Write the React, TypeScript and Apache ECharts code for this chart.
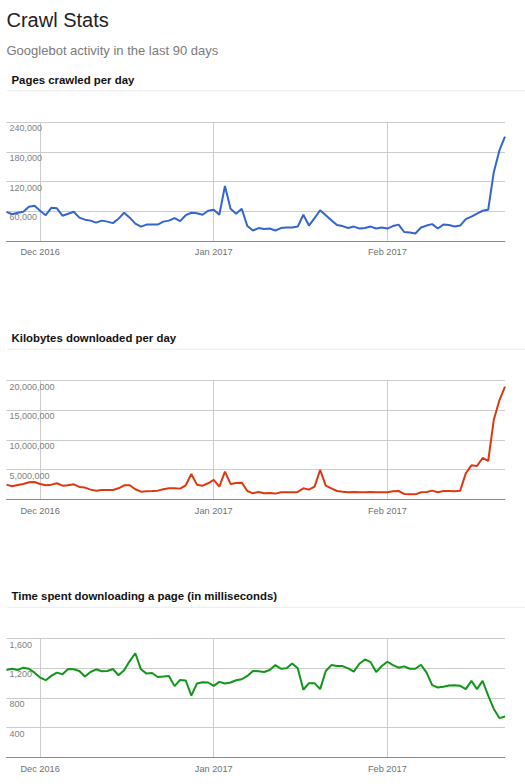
import React, { useEffect, useRef } from "react";
import * as echarts from "echarts";

const START_DATE = "2016-11-25";
const DAY_COUNT = 90;
const MONTH_NAMES = ["Jan", "Feb", "Mar", "Apr", "May", "Jun", "Jul", "Aug", "Sep", "Oct", "Nov", "Dec"];

const pagesCrawled = [
  58700, 54000, 57000, 59000, 69000, 71000, 61000, 52000, 67000, 66000,
  51000, 55000, 59000, 47000, 43000, 41000, 37000, 41000, 39000, 36000,
  45000, 57000, 47000, 35000, 29000, 33000, 33000, 33000, 39000, 41000,
  46000, 40000, 52000, 57000, 56000, 53000, 61000, 63000, 53000, 111000,
  65000, 55000, 65000, 30000, 21000, 26000, 24000, 25000, 21000, 26000,
  27000, 27000, 29000, 53000, 31000, 46000, 62000, 52000, 42000, 32000,
  30000, 26000, 29000, 25000, 26000, 29000, 25000, 27000, 25000, 30000,
  33000, 18000, 17000, 15000, 27000, 31000, 34000, 25000, 33000, 32000,
  29000, 31000, 44000, 49000, 55000, 61000, 63000, 139000, 183000, 211000,
];

const kilobytesDownloaded = [
  2470000, 2190000, 2420000, 2590000, 2870000, 2920000, 2590000, 2360000, 2470000, 2700000,
  2300000, 2360000, 2530000, 2080000, 1970000, 1630000, 1460000, 1570000, 1570000, 1570000,
  1850000, 2360000, 2360000, 1690000, 1290000, 1350000, 1400000, 1460000, 1690000, 1850000,
  1850000, 1800000, 2360000, 4270000, 2470000, 2300000, 2700000, 3260000, 2140000, 4660000,
  2590000, 2750000, 2810000, 1400000, 1010000, 1240000, 1010000, 1070000, 960000, 1180000,
  1180000, 1180000, 1240000, 1850000, 1630000, 2140000, 4950000, 2300000, 1850000, 1400000,
  1290000, 1180000, 1240000, 1180000, 1180000, 1240000, 1180000, 1180000, 1180000, 1350000,
  1400000, 900000, 840000, 840000, 1180000, 1240000, 1460000, 1180000, 1400000, 1400000,
  1350000, 1460000, 4380000, 5730000, 5620000, 6970000, 6460000, 13400000, 16700000, 19000000,
];

const timeSpentMs = [
  1178, 1195, 1178, 1209, 1195, 1142, 1075, 1040, 1098, 1142,
  1120, 1191, 1187, 1164, 1089, 1151, 1187, 1160, 1164, 1191,
  1107, 1173, 1298, 1404, 1187, 1129, 1138, 1084, 1089, 1098,
  960, 1044, 1036, 831, 995, 1013, 1009, 964, 1018, 995,
  1009, 1040, 1053, 1098, 1164, 1160, 1151, 1178, 1244, 1195,
  1200, 1267, 1200, 911, 1000, 1000, 920, 1164, 1244, 1231,
  1231, 1200, 1156, 1262, 1320, 1284, 1151, 1231, 1289, 1244,
  1209, 1227, 1195, 1195, 1249, 1142, 973, 942, 951, 969,
  973, 964, 920, 1031, 920, 1031, 831, 653, 529, 551,
];

const pagesTicks = [0, 60000, 120000, 180000, 240000];
const kilobytesTicks = [0, 5000000, 10000000, 15000000, 20000000];
const timeTicks = [0, 400, 800, 1200, 1600];

const PAGE_TITLE = "Crawl Stats";
const PAGE_SUBTITLE = "Googlebot activity in the last 90 days";
const chartTitles = [
  "Pages crawled per day",
  "Kilobytes downloaded per day",
  "Time spent downloading a page (in milliseconds)",
];
const seriesColors = ["#3366cc", "#dc3912", "#109618"];

function buildDates(): string[] {
  const out: string[] = [];
  const [y, m, d] = START_DATE.split("-").map(Number);
  const t0 = Date.UTC(y, m - 1, d);
  for (let i = 0; i < DAY_COUNT; i++) {
    const dt = new Date(t0 + i * 86400000);
    const mm = String(dt.getUTCMonth() + 1).padStart(2, "0");
    const dd = String(dt.getUTCDate()).padStart(2, "0");
    out.push(`${dt.getUTCFullYear()}-${mm}-${dd}`);
  }
  return out;
}

const FONT = 'Arial, "Liberation Sans", sans-serif';

export default function App() {
  const ref = useRef<HTMLDivElement>(null);

  useEffect(() => {
    document.body.style.margin = "0";
    if (!ref.current) return;
    const chart = echarts.init(ref.current, undefined, { renderer: "svg" });
    const dates = buildDates();
    const isMonthStart = (v: string) => v.endsWith("-01");
    const monthLabel = (v: string) => {
      const [y, m] = v.split("-").map(Number);
      return `${MONTH_NAMES[m - 1]} ${y}`;
    };

    const datasets = [pagesCrawled, kilobytesDownloaded, timeSpentMs];
    const ticks = [pagesTicks, kilobytesTicks, timeTicks];
    const gridTops = [122.3, 380.7, 638.7];
    const titleYs = [80, 338, 596];
    const sepYs = [90.7, 349.3, 607.3];
    const gridLeft = 6.5;
    const gridWidth = 498.5;
    const gridHeight = 118.6;

    const grid = gridTops.map((t) => ({
      left: gridLeft,
      top: t,
      width: gridWidth,
      height: gridHeight,
      containLabel: false,
    }));

    const xAxis = gridTops.map((_, i) => ({
      type: "category",
      gridIndex: i,
      data: dates,
      boundaryGap: false,
      axisTick: { show: false },
      axisLine: { show: true, lineStyle: { color: "#8a8a8a", width: 1 } },
      axisLabel: {
        interval: (_idx: number, v: string) => isMonthStart(v),
        formatter: (v: string) => monthLabel(v),
        color: "#6f6f6f",
        fontFamily: FONT,
        fontSize: 9.2,
        margin: 7,
      },
      splitLine: {
        show: true,
        interval: (_idx: number, v: string) => isMonthStart(v),
        lineStyle: { color: "#cccccc", width: 1 },
      },
    }));

    const yAxis = ticks.map((tk, i) => ({
      type: "value",
      gridIndex: i,
      min: tk[0],
      max: tk[tk.length - 1],
      interval: tk[1] - tk[0],
      axisLine: { show: false },
      axisTick: { show: false },
      splitLine: { show: true, lineStyle: { color: "#cccccc", width: 1 } },
      axisLabel: {
        inside: true,
        margin: 3,
        verticalAlign: "top",
        padding: [1.5, 0, 0, 0],
        color: "#808080",
        fontFamily: FONT,
        fontSize: 9,
        formatter: (v: number) => (v === 0 ? "" : v.toLocaleString("en-US")),
      },
    }));

    const series = datasets.map((d, i) => ({
      type: "line",
      xAxisIndex: i,
      yAxisIndex: i,
      data: d,
      showSymbol: false,
      symbol: "none",
      smooth: false,
      lineStyle: { color: seriesColors[i], width: 2 },
      itemStyle: { color: seriesColors[i] },
      z: 5,
    }));

    const graphic: any[] = [
      {
        type: "text",
        x: 6.5,
        y: 20,
        style: { text: PAGE_TITLE, fill: "#222222", font: `20px ${FONT}`, verticalAlign: "middle" },
      },
      {
        type: "text",
        x: 6.5,
        y: 50.5,
        style: { text: PAGE_SUBTITLE, fill: "#7a7a7a", font: `13px ${FONT}`, verticalAlign: "middle" },
      },
    ];
    chartTitles.forEach((t, i) => {
      graphic.push({
        type: "text",
        x: 11.5,
        y: titleYs[i],
        style: { text: t, fill: "#111111", font: `bold 11.4px ${FONT}`, verticalAlign: "middle" },
      });
      graphic.push({
        type: "line",
        shape: { x1: 7, y1: sepYs[i], x2: 525, y2: sepYs[i] },
        style: { stroke: "#ebebeb", lineWidth: 1 },
      });
    });

    chart.setOption({
      animation: false,
      backgroundColor: "#ffffff",
      grid,
      xAxis,
      yAxis,
      series,
      graphic,
    } as any);

    return () => {
      chart.dispose();
    };
  }, []);

  return <div ref={ref} style={{ width: 525, height: 784 }} />;
}
